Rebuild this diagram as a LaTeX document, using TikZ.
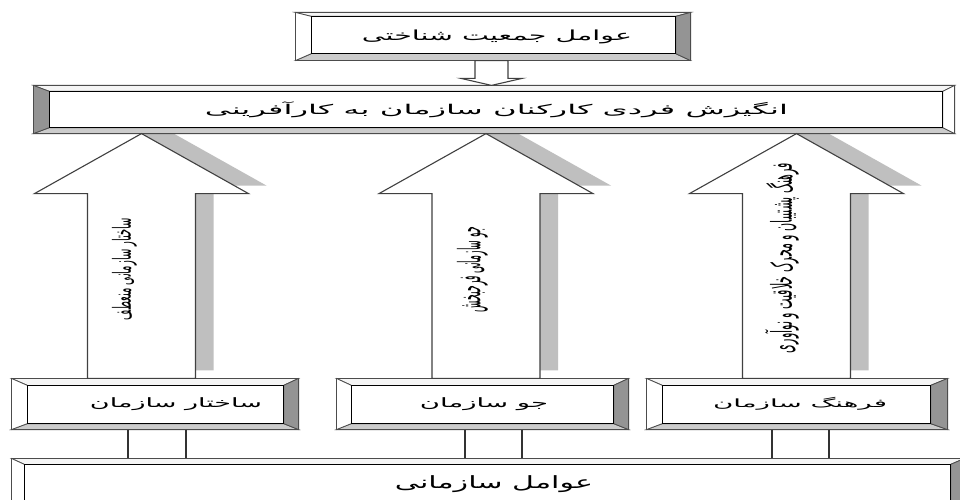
\documentclass[tikz,border=0pt]{standalone}
\usepackage{fontspec}
\usepackage{graphicx}
\usetikzlibrary{calc}
\newfontfamily\arabicfont[Script=Arabic]{DejaVu Sans}
\TeXXeTstate=1
\newcommand\fatext[3]{\resizebox*{#1pt}{#2pt}{\arabicfont #3}}
\pgfdeclarelayer{bg}
\pgfsetlayers{bg,main}
\tikzset{
  boxnode/.style={draw=black!70, line width=1.2pt, fill=white, inner sep=0pt, rectangle},
  facest/.style={draw=black!70, line width=0.8pt},
  innerst/.style={draw=black, line width=1.2pt},
  outerst/.style={draw=black!70, line width=1.2pt},
  arrowst/.style={draw=black!75, line width=1.1pt, fill=white},
  shadowst/.style={fill=black!25, draw=none},
  connst/.style={draw=black!80, line width=1.1pt},
  vtext/.style={rotate=90, inner sep=0pt},
}
\newcommand\bevelfaces[7]{%
  \coordinate (#1-inw) at ([shift={(#2pt,-#3pt)}]#1.north west);
  \coordinate (#1-ine) at ([shift={(-#4pt,-#3pt)}]#1.north east);
  \coordinate (#1-isw) at ([shift={(#2pt,#5pt)}]#1.south west);
  \coordinate (#1-ise) at ([shift={(-#4pt,#5pt)}]#1.south east);
  \filldraw[facest, fill=black!4] (#1.north west) -- (#1.north east) -- (#1-ine) -- (#1-inw) -- cycle;
  \filldraw[facest, fill=black!20] (#1.south west) -- (#1.south east) -- (#1-ise) -- (#1-isw) -- cycle;
  \filldraw[facest, fill=#6] (#1.north west) -- (#1.south west) -- (#1-isw) -- (#1-inw) -- cycle;
  \filldraw[facest, fill=#7] (#1.north east) -- (#1.south east) -- (#1-ise) -- (#1-ine) -- cycle;
  \draw[innerst] (#1-inw) rectangle (#1-ise);
  \draw[outerst] (#1.north west) rectangle (#1.south east);
}
% up block arrow: #1 x, #2 top node, #3 bottom node, #4 style, #5 dx, #6 dy
\newcommand\upblock[6]{%
  \filldraw[#4] let \p1=(#2.south), \p2=(#3.north) in
    ({#1pt+#5pt},{\y1+#6pt}) -- ({#1pt+107pt+#5pt},{\y1-60pt+#6pt})
    -- ({#1pt+54pt+#5pt},{\y1-60pt+#6pt}) -- ({#1pt+54pt+#5pt},{\y2+#6pt})
    -- ({#1pt-54pt+#5pt},{\y2+#6pt}) -- ({#1pt-54pt+#5pt},{\y1-60pt+#6pt})
    -- ({#1pt-107pt+#5pt},{\y1-60pt+#6pt}) -- cycle;}
\begin{document}
\begin{tikzpicture}[x=1pt,y=-1pt]
\clip (0,0) rectangle (960,500);
\begin{pgfonlayer}{bg}
\fill[white] (0,0) rectangle (960,500);
\end{pgfonlayer}

% boxes
\node[boxnode, minimum width=394pt, minimum height=47pt] (top) at (493,36.5)
  {\hspace*{8pt}\fatext{270}{14}{\beginR عوامل جمعیت شناختی\endR}};
\node[boxnode, minimum width=920pt, minimum height=47pt] (main) at (494,109.5)
  {\hspace*{5pt}\fatext{583}{16}{\beginR انگیزش فردی کارکنان سازمان به کارآفرینی\endR}};
\node[boxnode, minimum width=286pt, minimum height=50pt] (b1) at (155,404)
  {\hspace*{42pt}\fatext{172}{13}{\beginR ساختار سازمان\endR}};
\node[boxnode, minimum width=291pt, minimum height=50pt] (b2) at (482.5,404)
  {\hspace*{3pt}\fatext{128}{13}{\beginR جو سازمان\endR}};
\node[boxnode, minimum width=300pt, minimum height=50pt] (b3) at (797,404)
  {\hspace*{6pt}\fatext{174}{13}{\beginR فرهنگ سازمان\endR}};
\node[boxnode, minimum width=952pt, minimum height=50pt] (bot) at (488,484)
  {\hspace*{12pt}\fatext{198}{17}{\beginR عوامل سازمانی\endR}};

\bevelfaces{top}{16}{4}{15}{7}{white}{black!42}
\bevelfaces{main}{16}{6}{12}{6}{black!42}{white}
\bevelfaces{b1}{16}{7}{15}{6}{white}{black!42}
\bevelfaces{b2}{15}{7}{15}{6}{white}{black!42}
\bevelfaces{b3}{16}{7}{17}{6}{white}{black!42}
\bevelfaces{bot}{13}{6}{14}{6}{white}{black!42}

% shadows of up arrows
\begin{pgfonlayer}{bg}
\upblock{141.5}{main}{b1}{shadowst}{18}{8}
\upblock{486}{main}{b2}{shadowst}{18}{8}
\upblock{796.5}{main}{b3}{shadowst}{18}{8}
\end{pgfonlayer}

% up arrows
\upblock{141.5}{main}{b1}{arrowst}{0}{0}
\upblock{486}{main}{b2}{arrowst}{0}{0}
\upblock{796.5}{main}{b3}{arrowst}{0}{0}

% texts in arrows
\node[vtext] (t1) at (124.5,269) {\fatext{102}{25}{\beginR ساختار سازمانی منعطف\endR}};
\node[vtext] (t2) at (472.5,269.5) {\fatext{85}{31}{\beginR جو سازمانی فرحبخش\endR}};
\node[vtext] (t3) at (782,258) {\fatext{190}{34}{\beginR فرهنگ پشتیبان و محرک خلاقیت و نوآوری\endR}};

% down arrow
\filldraw[arrowst] let \p1=(top.south), \p2=(main.north) in
  ({491.5pt-16.5pt},\y1) -- ({491.5pt+16.5pt},\y1) -- ({491.5pt+16.5pt},{\y2+7pt})
  -- ({491.5pt+30.5pt},{\y2+7pt}) -- (491.5pt,\y2) -- ({491.5pt-30.5pt},{\y2+7pt})
  -- ({491.5pt-16.5pt},{\y2+7pt}) -- cycle;

% connectors to bottom box
\draw[connst] ([xshift=-27pt]b1.south) -- ([xshift=-27pt]b1.south |- bot.north);
\draw[connst] ([xshift=31pt]b1.south) -- ([xshift=31pt]b1.south |- bot.north);
\draw[connst] ([xshift=-17.5pt]b2.south) -- ([xshift=-17.5pt]b2.south |- bot.north);
\draw[connst] ([xshift=39.5pt]b2.south) -- ([xshift=39.5pt]b2.south |- bot.north);
\draw[connst] ([xshift=-25pt]b3.south) -- ([xshift=-25pt]b3.south |- bot.north);
\draw[connst] ([xshift=32pt]b3.south) -- ([xshift=32pt]b3.south |- bot.north);
\end{tikzpicture}
\end{document}
